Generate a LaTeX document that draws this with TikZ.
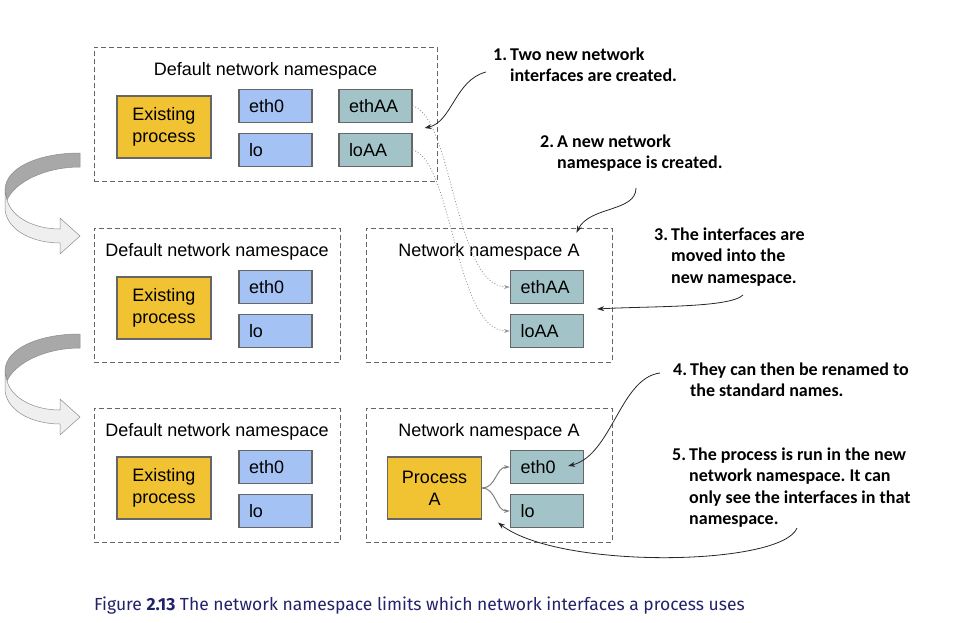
\documentclass[tikz,border=0pt]{standalone}
\usepackage{fontspec}
\setmainfont{Liberation Sans}
\newfontfamily\notefont{Carlito}
\newfontfamily\capfont{Fira Sans}
\usetikzlibrary{arrows.meta,calc,positioning}

\definecolor{procyellow}{HTML}{F1C232}
\definecolor{hostblue}{HTML}{A4C2F4}
\definecolor{nsteal}{HTML}{A2C4C9}
\definecolor{edgegray}{HTML}{666666}
\definecolor{capnavy}{HTML}{22226A}
\definecolor{ribbondark}{HTML}{A8A8A8}
\definecolor{ribbonlight}{HTML}{EFEFEF}

% numbered note: number, then the lines hanging after it
\newcommand{\notenum}[2]{\makebox[17pt][l]{#1}\begin{tabular}[t]{@{}l@{}}#2\end{tabular}}

\tikzset{
  nsbox/.style={draw=edgegray, dash pattern=on 5pt off 3pt, line width=0.9pt, inner sep=0pt},
  nstitle/.style={anchor=base, inner sep=0pt, font=\fontsize{18}{21}\selectfont},
  proc/.style={draw=edgegray, fill=procyellow, line width=1.2pt, minimum width=94pt,
    minimum height=62pt, inner sep=0pt, align=center, font=\fontsize{18}{22}\selectfont},
  iface/.style={draw=edgegray, line width=1.2pt, minimum width=73pt, minimum height=33pt,
    inner xsep=10pt, inner ysep=0pt, text width=53pt, align=left, font=\fontsize{18}{21}\selectfont},
  hostif/.style={iface, fill=hostblue},
  nsif/.style={iface, fill=nsteal},
  callnote/.style={anchor=base west, inner sep=0pt, font=\notefont\bfseries\frenchspacing\fontsize{18}{21.5}\selectfont},
  callout/.style={black!85, line width=0.8pt, -{Stealth[length=7pt,width=5pt]}},
  moveline/.style={gray!80, dotted, line width=0.9pt, -{Stealth[length=6pt,width=4pt]}},
  useline/.style={gray, line width=1pt, -{Stealth[length=6pt,width=4pt]}},
  ribbon/.style={draw=gray!90, line width=0.5pt}
}

\begin{document}
\begin{tikzpicture}[x=1pt,y=-1pt]
\useasboundingbox (0,0) rectangle (959,622);

% left: the three default namespaces
\foreach \r/\top/\w in {1/47/343,2/228/246,3/408/246} {
  \node[nsbox, minimum width=\w pt, minimum height=134pt] (def\r) at ({94+\w/2},{\top+67}) {};
  \node[nstitle] (def\r T) at ({94+\w/2},{\top+28}) {Default network namespace};
  \node[proc] (exist\r) at (164,{\top+80}) {Existing\\process};
  \node[hostif] (eth\r) at (275.5,{\top+59}) {eth0};
  \node[hostif] (lo\r) at (275.5,{\top+103}) {lo};
}

% new interfaces in row 1
\node[nsif] (ethA1) at (375.5,106) {ethAA};
\node[nsif] (loA1) at (375.5,150) {loAA};

% namespace A, row 2
\node[nsbox, minimum width=246pt, minimum height=134pt] (nsA2) at (489,295) {};
\node[nstitle] (nsA2T) at (489,256) {Network namespace A};
\node[nsif] (ethA2) at (547,287) {ethAA};
\node[nsif] (loA2) at (547,331) {loAA};

% namespace A, row 3
\node[nsbox, minimum width=246pt, minimum height=134pt] (nsA3) at (489,475) {};
\node[nstitle] (nsA3T) at (489,436) {Network namespace A};
\node[proc] (procA) at (434.5,488) {Process\\A};
\node[nsif] (ethB3) at (547,467) {eth0};
\node[nsif] (loB3) at (547,511) {lo};

% notes
\node[callnote] (n1) at (493,60) {\notenum{1.}{Two new network\\interfaces are created.}};
\node[callnote] (n2) at (540,147) {\notenum{2.}{A new network\\namespace is created.}};
\node[callnote] (n3) at (654,240) {\notenum{3.}{The interfaces are\\moved into the\\new namespace.}};
\node[callnote] (n4) at (673,375) {\notenum{4.}{They can then be renamed to\\the standard names.}};
\node[callnote] (n5) at (672,460) {\notenum{5.}{The process is run in the new\\network namespace. It can\\only see the interfaces in that\\namespace.}};

% note arrows
\coordinate (n1a) at (486,72);
\coordinate (n2a) at (636,188);
\coordinate (n3a) at (743,295);
\coordinate (n4a) at (660,373);
\coordinate (n5a) at (797,528);
\draw[callout] (n1a) .. controls (455,80) and (452,122) .. ($(ethA1.south east)!.5!(loA1.north east)+(12,0)$);
\draw[callout] (n2a) .. controls (636,212) and (590,206) .. ($(nsA2.north east)+(-36,5)$);
\draw[callout] (n3a) .. controls (730,308) and (650,306) .. ($(ethA2.south east)!.5!(loA2.north east)+(13,0)$);
\draw[callout] (n4a) .. controls (620,378) and (612,455) .. ($(ethB3.east)+(-16,-1)$);
\draw[callout] (n5a) .. controls (782,566) and (560,570) .. ($(procA.south east)+(16,3)$);

% interfaces moved into namespace A
\draw[moveline] (ethA1.east) .. controls +(40,10) and +(-55,0) .. (ethA2.west);
\draw[moveline] (loA1.east) .. controls +(40,10) and +(-55,0) .. (loA2.west);

% process A sees only these
\draw[useline] (procA.east) .. controls +(14,0) and +(-14,0) .. (ethB3.west);
\draw[useline] (procA.east) .. controls +(14,0) and +(-14,0) .. (loB3.west);

% curved step arrows on the left
\foreach \dy in {0,181} {
  \begin{scope}[shift={(0,\dy)}]
    \filldraw[ribbon, fill=ribbondark] (80,153) .. controls (38,153) and (5,168) .. (5,190)
      -- (7,200) .. controls (15,182) and (45,167) .. (80,167) -- cycle;
    \filldraw[ribbon, fill=ribbonlight] (5,190) -- (5,210) .. controls (8,232) and (35,243) .. (60,243)
      -- (60,254) -- (80,236) -- (60,218) -- (60,229) .. controls (35,229) and (12,218) .. (7,200) -- cycle;
  \end{scope}
}

% caption
\node[anchor=base west, inner sep=0pt, text=capnavy, font=\capfont\fontsize{17.5}{20}\selectfont] (cap) at (94,610)
  {Figure \textbf{2.13} The network namespace limits which network interfaces a process uses};
\end{tikzpicture}
\end{document}
